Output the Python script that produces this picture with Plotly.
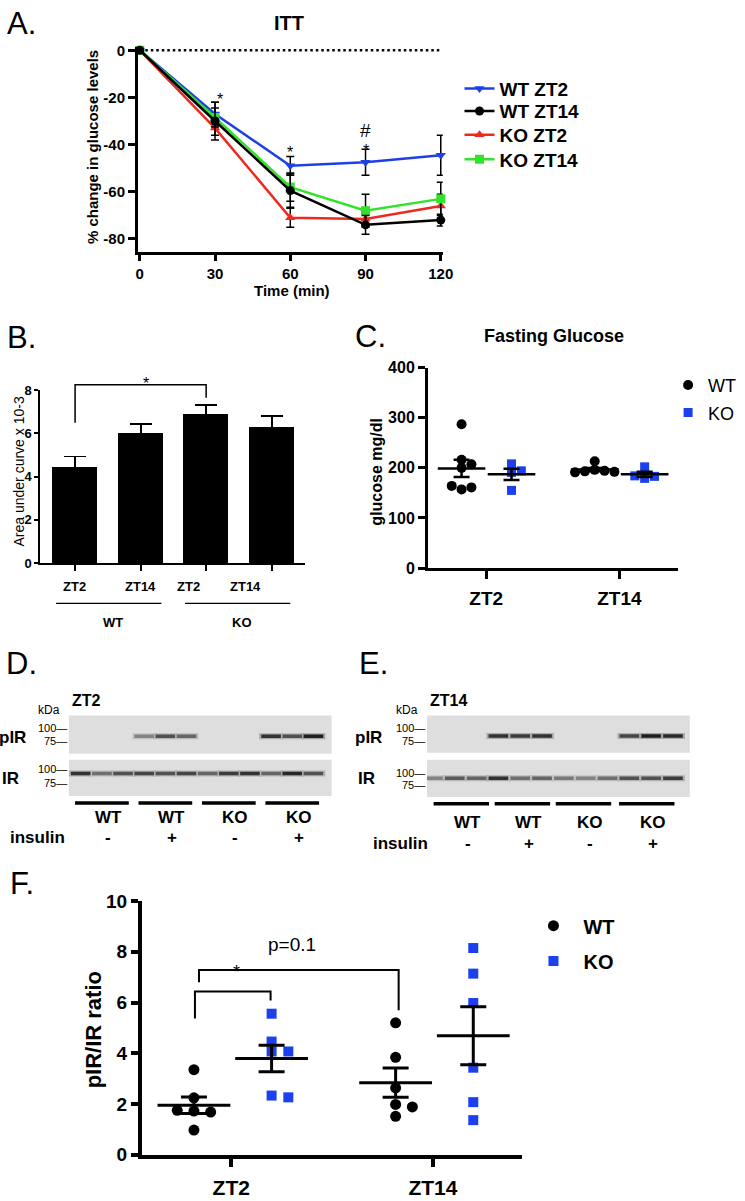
import plotly.graph_objects as go

W, H = 745, 1201
FONT = "Liberation Sans, Arial, Helvetica, sans-serif"

# ---------------- data ----------------
itt_time = [0, 30, 60, 90, 120]
itt_yticks = [0, -20, -40, -60, -80]
itt_wt_zt2 = [0, -27, -49, -47.5, -44.5]
itt_wt_zt2_err = [0, 5, 4, 5.5, 8.5]
itt_wt_zt14 = [0, -30, -59.5, -74, -72]
itt_wt_zt14_err = [0, 8, 7, 4, 2.5]
itt_ko_zt2 = [0, -33, -71, -71.5, -66]
itt_ko_zt2_err = [0, 3, 4, 3, 5]
itt_ko_zt14 = [0, -28.5, -58, -68, -63]
itt_ko_zt14_err = [0, 4, 6, 7, 7]

auc_labels = ["ZT2", "ZT14", "ZT2", "ZT14"]
auc_genotypes = ["WT", "KO"]
auc_mean = [4.45, 6.02, 6.9, 6.3]
auc_sem = [0.48, 0.42, 0.4, 0.5]
auc_yticks = [0, 2, 4, 6, 8]

zt_labels = ["ZT2", "ZT14"]
fg_wt = [[287, 200, 216, 207, 157, 161, 164], [196, 194, 193, 192, 191, 213]]
fg_ko = [[191, 208, 194, 155], [179, 183, 184, 202]]
fg_yticks = [0, 100, 200, 300, 400]

ratio_wt = [[3.35, 1.72, 1.68, 1.75, 2.24, 0.97], [5.2, 3.84, 2.63, 1.51, 1.98, 1.88]]
ratio_ko = [[5.56, 4.46, 4.07, 4.07, 2.33, 2.26], [8.15, 7.14, 5.98, 3.43, 2.07, 1.36]]
ratio_yticks = [0, 2, 4, 6, 8, 10]

blot_lanes = list(range(1, 13))
blot_groups = ["WT", "WT", "KO", "KO"]
blot_insulin = ["-", "+", "-", "+"]
blot_d_pir = [0, 0, 0, 0.45, 0.7, 0.6, 0, 0, 0, 0.85, 0.7, 0.95]
blot_d_ir = [0.85, 0.55, 0.7, 0.75, 0.7, 0.75, 0.6, 0.8, 0.85, 0.6, 0.9, 0.7]
blot_e_pir = [0, 0, 0, 0.85, 0.8, 0.85, 0, 0, 0, 0.75, 0.95, 0.9]
blot_e_ir = [0.45, 0.65, 0.6, 0.85, 0.55, 0.6, 0.5, 0.45, 0.55, 0.7, 0.7, 0.8]

# ---------------- layout geometry (pixels) ----------------
SPEC = {
    "A": dict(ax="", xd=(138, 448), yd=(38, 246), xr=(-0.8, 120.8), yr=(-85.4, 1.25)),
    "B": dict(ax="2", xd=(39, 308), yd=(387, 563), xr=(-0.53, 3.51), yr=(0, 8)),
    "C": dict(ax="3", xd=(433, 687), yd=(364, 568), xr=(-0.437, 1.44), yr=(0, 400)),
    "F": dict(ax="4", xd=(142, 529), yd=(907, 1165), xr=(-0.444, 1.444), yr=(0, 10)),
    "Dp": dict(ax="5", xd=(68, 335), yd=(718, 757), xr=(0.44, 12.86), yr=(0, 1)),
    "Di": dict(ax="6", xd=(68, 335), yd=(763, 800), xr=(0.44, 12.86), yr=(0, 1)),
    "Ep": dict(ax="7", xd=(432, 699), yd=(718, 756), xr=(0.73, 12.77), yr=(0, 1)),
    "Ei": dict(ax="8", xd=(432, 699), yd=(763, 801), xr=(0.73, 12.77), yr=(0, 1)),
}

BLUE_A = "#1f3fe6"
RED_A = "#ee2a1e"
GREEN_A = "#33e22b"
BLUE_PT = "#1a40f0"
BLOT_BG = 222


def P(px, py):
    return px / W, 1 - py / H


def d2p(key, xv, yv):
    s = SPEC[key]
    fx = (xv - s["xr"][0]) / (s["xr"][1] - s["xr"][0])
    fy = (yv - s["yr"][0]) / (s["yr"][1] - s["yr"][0])
    px = s["xd"][0] + fx * (s["xd"][1] - s["xd"][0])
    py = s["yd"][1] - fy * (s["yd"][1] - s["yd"][0])
    return P(px, py)


def refs(key):
    a = SPEC[key]["ax"]
    return "x" + a, "y" + a


def mean(v):
    return sum(v) / len(v)


def sem(v):
    m = mean(v)
    return (sum((x - m) ** 2 for x in v) / (len(v) - 1)) ** 0.5 / len(v) ** 0.5


def swarm(values, key, cat, offset, step_px, min_px):
    s = SPEC[key]
    kx = (s["xd"][1] - s["xd"][0]) / (s["xr"][1] - s["xr"][0])
    ky = (s["yd"][1] - s["yd"][0]) / (s["yr"][1] - s["yr"][0])
    placed, xs = [], []
    for v in values:
        y = v * ky
        o = 0
        for k in [0, 1, -1, 2, -2, 3, -3, 4, -4]:
            o = k * step_px
            if all(((o - po) ** 2 + (y - py) ** 2) ** 0.5 >= min_px for po, py in placed):
                break
        placed.append((o, y))
        xs.append(cat + offset + o / kx)
    return xs


fig = go.Figure()
annotations = []
shapes = []


def ann(text, px, py, size, bold=False, xa="center", ya="middle", angle=0):
    x, y = P(px, py)
    annotations.append(dict(text=text, x=x, y=y, xref="paper", yref="paper",
                            xanchor=xa, yanchor=ya, showarrow=False, textangle=angle,
                            font=dict(family=FONT, size=size, color="black",
                                      weight="bold" if bold else "normal")))


def data_ann(key, text, xv, yv, size, bold=False):
    x, y = d2p(key, xv, yv)
    annotations.append(dict(text=text, x=x, y=y, xref="paper", yref="paper", showarrow=False,
                            font=dict(family=FONT, size=size, color="black",
                                      weight="bold" if bold else "normal")))


def bracket(key, x0, y0, ytop, x1, y1, width=1.5):
    a = d2p(key, x0, y0)
    b = d2p(key, x0, ytop)
    c = d2p(key, x1, ytop)
    d = d2p(key, x1, y1)
    shapes.append(dict(type="path", xref="paper", yref="paper",
                       path=f"M {a[0]},{a[1]} L {b[0]},{b[1]} L {c[0]},{c[1]} L {d[0]},{d[1]}",
                       line=dict(color="black", width=width)))


legends = {}


def add_legend(name, px, py, size, bold, itemwidth=30):
    x, y = P(px, py)
    legends[name] = dict(x=x, y=y, xanchor="left", yanchor="middle",
                         bgcolor="rgba(0,0,0,0)", borderwidth=0, itemwidth=itemwidth,
                         font=dict(family=FONT, size=size, color="black",
                                   weight="bold" if bold else "normal"),
                         itemclick=False, itemdoubleclick=False)


# ---------------- Panel A : ITT ----------------
xa_, ya_ = refs("A")
itt_series = [
    ("WT ZT2", itt_wt_zt2, itt_wt_zt2_err, BLUE_A, "triangle-down", "legend", 80),
    ("KO ZT2", itt_ko_zt2, itt_ko_zt2_err, RED_A, "triangle-up", "legend3", 127),
    ("KO ZT14", itt_ko_zt14, itt_ko_zt14_err, GREEN_A, "square", "legend4", 152),
    ("WT ZT14", itt_wt_zt14, itt_wt_zt14_err, "black", "circle", "legend2", 103),
]
for name, y, err, col, sym, leg, ly in itt_series:
    fig.add_trace(go.Scatter(
        x=itt_time, y=y, name=name, mode="lines+markers", xaxis=xa_, yaxis=ya_,
        line=dict(color=col, width=2.5),
        marker=dict(symbol=sym, size=9, color=col),
        error_y=dict(type="data", array=err, color="black", thickness=1.5, width=4),
        cliponaxis=False, legend=leg, showlegend=True))
    add_legend(leg, 465, ly, 19, True)

shapes.append(dict(type="line", xref=xa_, yref=ya_, x0=0, x1=120, y0=0, y1=0,
                   line=dict(color="black", width=2.5, dash="2.5px,3px")))
for tx, ty, t in [(30, -16.5, "*"), (60, -39, "*"), (90, -38, "*"), (90, -28.5, "#")]:
    data_ann("A", t, tx, ty, 16 if t == "*" else 19)
ann("% change in glucose levels", 92, 140, 15, True, angle=-90)
ann("Time (min)", 295, 285, 15, True)
ann("ITT", 292, 13, 20, True)

# ---------------- Panel B : AUC ----------------
xb, yb = refs("B")
fig.add_trace(go.Bar(x=list(range(len(auc_mean))), y=auc_mean, width=0.69,
                     marker=dict(color="black", line=dict(width=0)),
                     error_y=dict(type="data", array=auc_sem, color="black", thickness=1.8, width=11),
                     xaxis=xb, yaxis=yb, showlegend=False))
bracket("B", 0, 6.5, 8.25, 2, 7.65)
data_ann("B", "*", 1.0, 8.82, 16)
auc_label_px = [74, 141, 190, 247]
for lab, px in zip(auc_labels, auc_label_px):
    ann(lab, px, 587, 13, True)
for g, (x0, x1) in zip(auc_genotypes, [(55, 162), (186, 293)]):
    shapes.append(dict(type="line", xref="paper", yref="paper",
                       x0=x0 / W, x1=x1 / W, y0=1 - 604 / H, y1=1 - 604 / H,
                       line=dict(color="black", width=1.2)))
    ann(g, (x0 + x1) / 2 + 4, 623, 13, True)
ann("Area under curve x 10-3", 17, 470, 14, False, angle=-90)

# ---------------- Panel C : Fasting glucose ----------------
xc, yc = refs("C")
for vals, name, sym, col, size, off, leg, ly in [
        (fg_wt, "WT", "circle", "black", 10, -0.185, "legend5", 382),
        (fg_ko, "KO", "square", BLUE_PT, 9, 0.19, "legend6", 410)]:
    xs_all, ys_all, mx, my, me = [], [], [], [], []
    for ci, v in enumerate(vals):
        xs_all += swarm(v, "C", ci, off, 10, 8)
        ys_all += v
        mx.append(ci + off)
        my.append(mean(v))
        me.append(sem(v))
    fig.add_trace(go.Scatter(x=xs_all, y=ys_all, mode="markers", name=name, xaxis=xc, yaxis=yc,
                             marker=dict(symbol=sym, size=size, color=col), cliponaxis=False,
                             legend=leg, showlegend=True))
    fig.add_trace(go.Scatter(x=mx, y=my, mode="markers", xaxis=xc, yaxis=yc, showlegend=False,
                             marker=dict(symbol="line-ew", size=34, color="black",
                                         line=dict(width=2.5, color="black")),
                             error_y=dict(type="data", array=me, color="black", thickness=2.5, width=8)))
    add_legend(leg, 677, ly, 18, False)
ann("Fasting Glucose", 561, 332, 18, True)
ann("glucose mg/dl", 381, 470, 16, True, angle=-90)

# ---------------- Panel F : pIR/IR ratio ----------------
xf, yf = refs("F")
for vals, name, sym, col, size, off, leg, ly in [
        (ratio_wt, "WT", "circle", "black", 11, -0.185, "legend7", 932),
        (ratio_ko, "KO", "square", BLUE_PT, 10, 0.2, "legend8", 968)]:
    xs_all, ys_all, mx, my, me = [], [], [], [], []
    for ci, v in enumerate(vals):
        xs_all += swarm(v, "F", ci, off, 8.5, 9)
        ys_all += v
        mx.append(ci + off)
        my.append(mean(v))
        me.append(sem(v))
    fig.add_trace(go.Scatter(x=xs_all, y=ys_all, mode="markers", name=name, xaxis=xf, yaxis=yf,
                             marker=dict(symbol=sym, size=size, color=col), cliponaxis=False,
                             legend=leg, showlegend=True))
    fig.add_trace(go.Scatter(x=mx, y=my, mode="markers", xaxis=xf, yaxis=yf, showlegend=False,
                             marker=dict(symbol="line-ew", size=52, color="black",
                                         line=dict(width=3, color="black")),
                             error_y=dict(type="data", array=me, color="black", thickness=3, width=13)))
    add_legend(leg, 530, ly, 20, True, itemwidth=50)
bracket("F", -0.18, 5.37, 6.44, 0.195, 6.08, width=2)
bracket("F", -0.16, 6.8, 7.28, 0.83, 5.7, width=2)
data_ann("F", "*", 0.0, 6.75, 18)
data_ann("F", "p=0.1", 0.3, 7.78, 19)
ann("pIR/IR ratio", 93, 1038, 22, True, angle=-90)

# ---------------- Panels D / E : western blots ----------------


def gray(v, k=1.0):
    g = round(BLOT_BG - (BLOT_BG - 20) * v * k)
    return f"rgb({g},{g},{g})"


def blot(key, intens, ypos):
    xr_, yr_ = refs(key)
    shapes.append(dict(type="rect", xref=xr_ + " domain", yref=yr_ + " domain",
                       x0=0, x1=1, y0=0, y1=1, fillcolor=f"rgb({BLOT_BG},{BLOT_BG},{BLOT_BG})",
                       line=dict(width=0), layer="below"))
    xs = [l for l, v in zip(blot_lanes, intens) if v > 0]
    vs = [v for v in intens if v > 0]
    fig.add_trace(go.Scatter(x=xs, y=[ypos] * len(xs), mode="markers", xaxis=xr_, yaxis=yr_,
                             showlegend=False, hoverinfo="skip",
                             marker=dict(symbol="line-ew", size=17,
                                         line=dict(width=6, color=[gray(v, 0.3) for v in vs]))))
    fig.add_trace(go.Scatter(x=xs, y=[ypos] * len(xs), mode="markers", xaxis=xr_, yaxis=yr_,
                             showlegend=False, hoverinfo="skip",
                             marker=dict(symbol="line-ew", size=14,
                                         line=dict(width=3.5, color=[gray(v) for v in vs]))))


blot("Dp", blot_d_pir, 0.46)
blot("Di", blot_d_ir, 0.62)
blot("Ep", blot_e_pir, 0.45)
blot("Ei", blot_e_ir, 0.5)


def blot_labels(key, title, title_px, lab_px_right, kda_px, mw_ys, pir_px, ir_px, line_y, lab_y, ins_y,
                ins_px, group_centers, lab_shift):
    ann(title, title_px, 703, 16, True)
    ann("kDa", kda_px, 712, 12)
    for t, yy in zip(["100—", "75—", "100—", "75—"], mw_ys):
        ann(t, lab_px_right, yy, 11, xa="right")
    ann("pIR", pir_px, 740, 17, True, xa="right")
    ann("IR", ir_px, 782, 17, True, xa="right")
    for g, s, c in zip(blot_groups, blot_insulin, group_centers):
        x0 = d2p(key, c - 1.27, 0)[0]
        x1 = d2p(key, c + 1.27, 0)[0]
        shapes.append(dict(type="line", xref="paper", yref="paper", x0=x0, x1=x1,
                           y0=1 - line_y / H, y1=1 - line_y / H,
                           line=dict(color="black", width=3.5)))
        lx = d2p(key, c + lab_shift, 0)[0] * W
        ann(g, lx, lab_y, 17, True)
        ann(s, lx, ins_y, 17, True)
    ann("insulin", ins_px, ins_y, 17, True)


blot_labels("Di", "ZT2", 86, 68, 48, [731, 744, 772, 787], 26, 19, 807, 822, 842, 36,
            [2, 5, 8, 11], 0.3)
blot_labels("Ei", "ZT14", 454, 432, 412, [731, 744, 777, 789], 388, 381, 808, 827, 848, 405,
            [2.3, 5.1, 7.9, 10.8], 0.3)

# ---------------- panel letters ----------------
for t, px, py in [("A.", 3, 14), ("B.", 3, 333), ("C.", 357, 332), ("D.", 2, 665),
                  ("E.", 361, 665), ("F.", 6, 889)]:
    ann(t, px, py, 31, False, xa="left")

# ---------------- axes ----------------
layout_axes = {}


def base(key, which):
    s = SPEC[key]
    if which == "x":
        dom = [s["xd"][0] / W, s["xd"][1] / W]
        rng = list(s["xr"])
        anchor = "y" + s["ax"]
    else:
        dom = [1 - s["yd"][1] / H, 1 - s["yd"][0] / H]
        rng = list(s["yr"])
        anchor = "x" + s["ax"]
    return dict(domain=dom, range=rng, anchor=anchor, showgrid=False, zeroline=False,
                fixedrange=True)


def style(d, lw, ticklen, tickvals, ticktext, fsize, showlabels=True, standoff=None):
    d.update(showline=True, linewidth=lw, linecolor="black", ticks="outside", ticklen=ticklen,
             tickwidth=lw, tickcolor="black", tickmode="array", tickvals=tickvals,
             ticktext=ticktext, showticklabels=showlabels,
             tickfont=dict(family=FONT, size=fsize, color="black", weight="bold"))
    if standoff is not None:
        d["ticklabelstandoff"] = standoff
    return d


for key in SPEC:
    a = SPEC[key]["ax"]
    xd = base(key, "x")
    yd = base(key, "y")
    if key == "A":
        style(xd, 2.5, 7, itt_time, [str(v) for v in itt_time], 15)
        style(yd, 2.5, 7, itt_yticks, [str(v) for v in itt_yticks], 15)
    elif key == "B":
        style(xd, 2, 6, list(range(len(auc_mean))), [""] * len(auc_mean), 12, showlabels=False)
        style(yd, 2, 4, auc_yticks, [str(v) for v in auc_yticks], 13)
    elif key == "C":
        style(xd, 3, 8, [0, 1], zt_labels, 19, standoff=3)
        style(yd, 3, 7, fg_yticks, [str(v) for v in fg_yticks], 16)
    elif key == "F":
        style(xd, 3.5, 9, [0, 1], zt_labels, 21, standoff=2)
        style(yd, 3.5, 7, ratio_yticks, [str(v) for v in ratio_yticks], 19)
    else:
        xd.update(visible=False)
        yd.update(visible=False)
    layout_axes["xaxis" + a] = xd
    layout_axes["yaxis" + a] = yd

fig.update_layout(
    width=W, height=H, margin=dict(l=0, r=0, t=0, b=0),
    paper_bgcolor="white", plot_bgcolor="white",
    font=dict(family=FONT, color="black"),
    annotations=annotations, shapes=shapes, bargap=0,
    **layout_axes, **legends,
)

fig.write_html("out.html", config={"displayModeBar": False},
               post_script="document.body.style.margin='0';")
